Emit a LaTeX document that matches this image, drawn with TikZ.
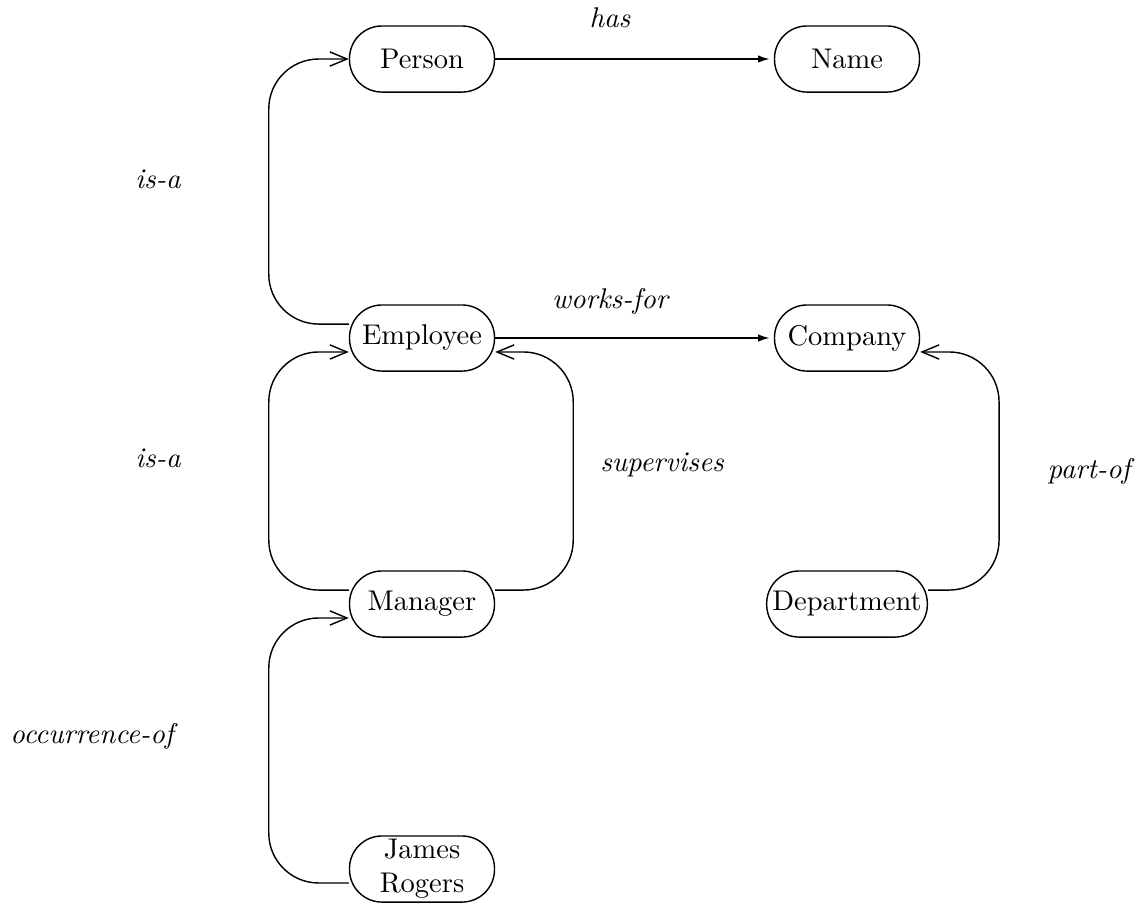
\documentclass[tikz,border=0pt]{standalone}
\usepackage{tikz}
\usetikzlibrary{arrows.meta}
\tikzset
{
  ConceptNodeStyle/.style =
  {
    shape = rectangle,
    rounded corners = 11.4pt,
    minimum width = 50.9pt,
    minimum height = 23.2pt,
    inner xsep = 2pt,
    inner ysep = 1pt,
    align = center,
    draw,
    line width = 0.5pt,
  },
  RelationLabelStyle/.style =
  {
    font = \itshape,
    inner sep = 0pt,
  },
  AttributeArrowStyle/.style =
  {
    line width = 0.5pt,
    -{Latex[length=4pt,width=2.6pt]},
    shorten > = 1.5pt,
  },
  LinkArrowStyle/.style =
  {
    line width = 0.5pt,
    rounded corners = 17.5pt,
    -{Straight Barb[length=6pt,width=5pt]},
  }
}

\begin{document}
\begin{tikzpicture}[x=0.351pt, y=-0.351pt]
  \useasboundingbox (0,0) rectangle (1143,905);

  % concept nodes
  \node[ConceptNodeStyle] (Person) at (422,59) {Person};
  \node[ConceptNodeStyle] (Name) at (847,59) {Name};
  \node[ConceptNodeStyle] (Employee) at (422,338) {Employee};
  \node[ConceptNodeStyle] (Company) at (847,338) {Company};
  \node[ConceptNodeStyle] (Manager) at (422,604) {Manager};
  \node[ConceptNodeStyle] (Department) at (847,604) {Department};
  \node[ConceptNodeStyle] (JamesRogers) at (422,869) {James\\Rogers};

  % relation labels
  \node[RelationLabelStyle] (HasLabel) at (610,18) {has};
  \node[RelationLabelStyle] (WorksForLabel) at (610,301) {works-for};
  \node[RelationLabelStyle] (IsAUpperLabel) at (158,179) {is-a};
  \node[RelationLabelStyle] (IsALowerLabel) at (158,458) {is-a};
  \node[RelationLabelStyle] (SupervisesLabel) at (662,465) {supervises};
  \node[RelationLabelStyle] (PartOfLabel) at (1089,471) {part-of};
  \node[RelationLabelStyle] (OccurrenceLabel) at (92,736) {occurrence-of};

  % straight relations
  \draw[AttributeArrowStyle] (Person.east) -- (Name.west);
  \draw[AttributeArrowStyle] (Employee.east) -- (Company.west);

  % bent relations
  \draw[LinkArrowStyle] ([yshift=4.9pt]Employee.west) -- ++(-80,0) |- (Person.west);
  \draw[LinkArrowStyle] ([yshift=4.9pt]Manager.west) -- ++(-80,0) |- ([yshift=-4.9pt]Employee.west);
  \draw[LinkArrowStyle] ([yshift=4.9pt]Manager.east) -- ++(78,0) |- ([yshift=-4.9pt]Employee.east);
  \draw[LinkArrowStyle] ([yshift=4.9pt]Department.east) -- ++(71,0) |- ([yshift=-4.9pt]Company.east);
  \draw[LinkArrowStyle] ([yshift=-4.9pt]JamesRogers.west) -- ++(-80,0) |- ([yshift=-4.9pt]Manager.west);
\end{tikzpicture}
\end{document}
